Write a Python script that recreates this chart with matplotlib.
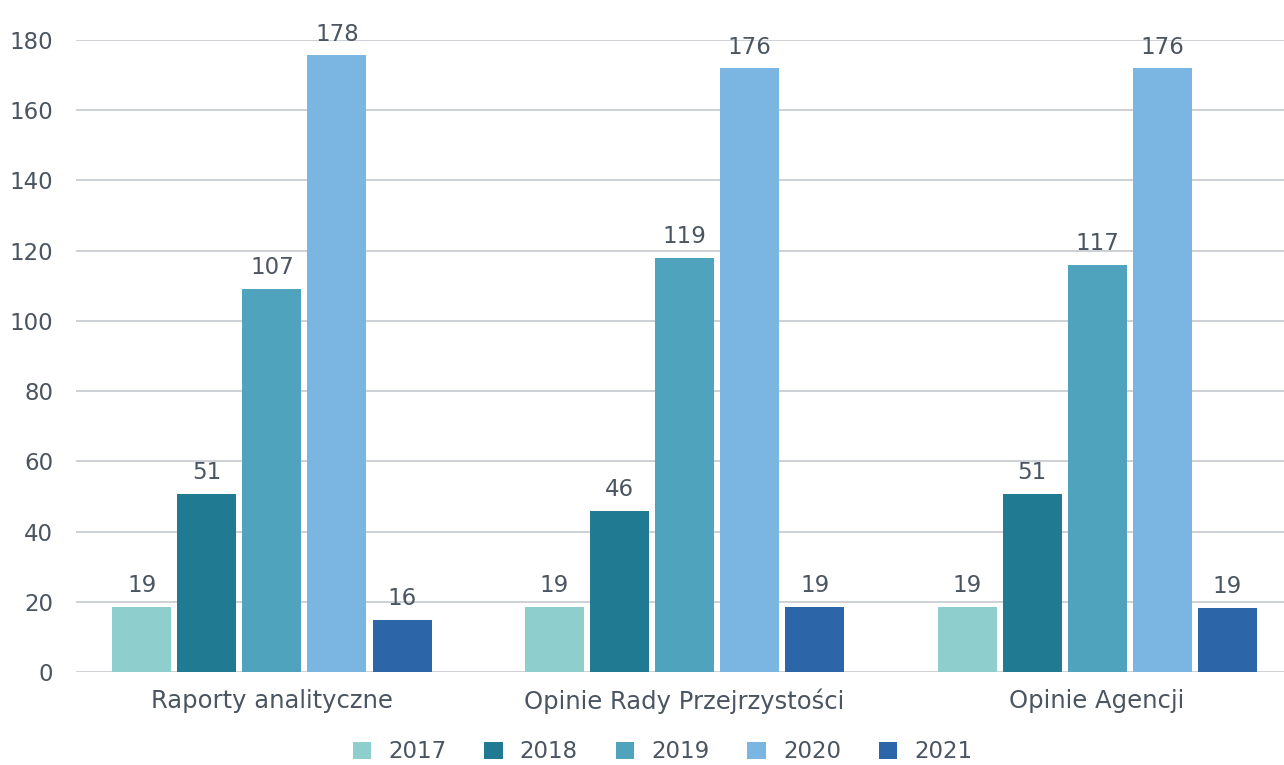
import matplotlib
matplotlib.use("Agg")
import matplotlib.pyplot as plt
import numpy as np
from matplotlib.patches import Patch

categories = ["Raporty analityczne", "Opinie Rady Przejrzystości", "Opinie Agencji"]
years = ["2017", "2018", "2019", "2020", "2021"]
# bar heights as drawn in the reference
v2017 = [18.5, 18.5, 18.5]
v2018 = [50.7, 45.9, 50.7]
v2019 = [109.1, 117.9, 115.9]
v2020 = [175.7, 172.0, 172.0]
v2021 = [14.8, 18.5, 18.3]
# printed labels
l2017 = [19, 19, 19]
l2018 = [51, 46, 51]
l2019 = [107, 119, 117]
l2020 = [178, 176, 176]
l2021 = [16, 19, 19]
yticks = [0, 20, 40, 60, 80, 100, 120, 140, 160, 180]

series = [v2017, v2018, v2019, v2020, v2021]
labels = [l2017, l2018, l2019, l2020, l2021]
colors = ["#8ECFCE", "#1F7A92", "#4FA3BD", "#7BB6E2", "#2C66A9"]
text_color = "#4A5561"
fs = 16.5

plt.rcParams['font.family'] = ['DejaVu Sans']

fig = plt.figure(figsize=(12.84, 7.65), dpi=100)
ax = fig.add_axes([76/1284, 1 - 672/765, (1284-76)/1284, (672-40)/765])

x = np.arange(len(categories))
step = 0.1576
width = 0.143
for i, (vals, labs, c) in enumerate(zip(series, labels, colors)):
    pos = x + (i - 2) * step
    ax.bar(pos, vals, width=width, color=c, zorder=3)
    for p, v, t in zip(pos, vals, labs):
        ax.text(p, v + 6.0, str(t), ha='center', va='center', fontsize=fs, color=text_color)

ax.set_ylim(0, 180)
ax.set_xlim(-0.475, 2.453)
ax.set_yticks(yticks)
ax.set_yticklabels([str(t) for t in yticks], fontsize=fs, color=text_color)
ax.set_xticks(x)
ax.set_xticklabels(categories, fontsize=17.5, color=text_color)
ax.tick_params(axis='both', length=0)
ax.tick_params(axis='y', pad=16.5)
ax.tick_params(axis='x', pad=12)
ax.grid(axis='y', color='#C5C9CF', linewidth=1.2, zorder=0)
for s in ax.spines.values():
    s.set_visible(False)

handles = [Patch(facecolor=c, edgecolor='none', label=y) for c, y in zip(colors, years)]
fig.legend(handles=handles, loc='center', bbox_to_anchor=(0.516, 1 - 752/765), ncol=5,
           frameon=False, fontsize=fs, labelcolor=text_color, handlelength=0.8,
           handleheight=0.8, columnspacing=1.65, handletextpad=0.75)

fig.savefig("out.png", dpi=100)
